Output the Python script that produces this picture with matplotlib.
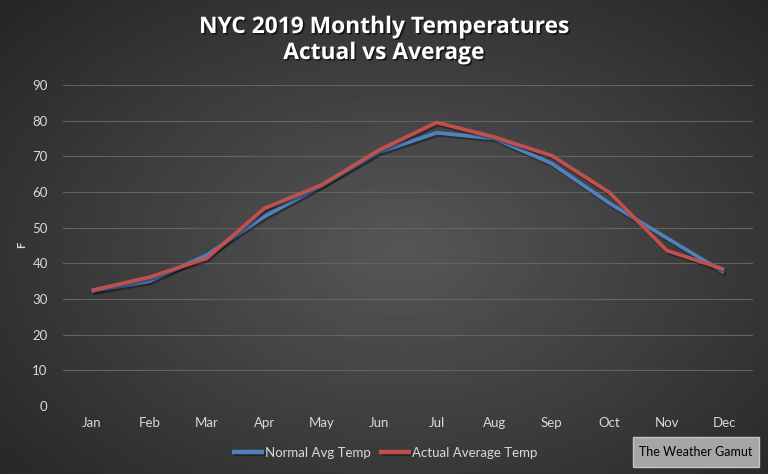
import numpy as np
import matplotlib
matplotlib.use('Agg')
import matplotlib.pyplot as plt
import matplotlib.patheffects as pe
from matplotlib.patches import Rectangle

# data
months = ['Jan', 'Feb', 'Mar', 'Apr', 'May', 'Jun', 'Jul', 'Aug', 'Sep', 'Oct', 'Nov', 'Dec']
normal_temp = [32.2, 35.0, 42.3, 53.1, 61.8, 71.2, 76.6, 75.0, 68.0, 56.9, 47.1, 37.4]
actual_temp = [32.4, 36.1, 41.4, 55.4, 62.0, 71.8, 79.5, 75.4, 70.2, 59.9, 43.6, 38.3]
yticks = list(range(0, 100, 10))

plt.rcParams['font.family'] = ['Lato', 'DejaVu Sans']

W, H = 768, 474
fig = plt.figure(figsize=(W / 100, H / 100), dpi=100)

# radial gradient background
bg = fig.add_axes([0, 0, 1, 1], zorder=0)
yy, xx = np.mgrid[0:H, 0:W]
r = np.sqrt(((xx - 400) / 420.0) ** 2 + ((yy - 250) / 280.0) ** 2)
shade = np.clip(0.34 - 0.15 * r, 0.12, 1)
bg.imshow(shade, cmap='gray', vmin=0, vmax=1, aspect='auto',
          extent=[0, 1, 0, 1], interpolation='bilinear')
bg.axis('off')

# plot area
ax = fig.add_axes([63 / W, 1 - 406 / H, (753 - 63) / W, (406 - 85) / H], zorder=1)
ax.set_facecolor('none')
x = np.arange(len(months))
shadow = [pe.SimpleLineShadow(offset=(1, -1.5), shadow_color='black', alpha=0.35), pe.Normal()]
ax.plot(x, normal_temp, color='#4F81BD', lw=2.7, label='Normal Avg Temp',
        solid_capstyle='butt', path_effects=shadow)
ax.plot(x, actual_temp, color='#C0504D', lw=2.7, label='Actual Average Temp',
        solid_capstyle='butt', path_effects=shadow)

ax.set_xlim(-0.5, len(months) - 0.5)
ax.set_ylim(0, 90)
ax.set_yticks(yticks)
ax.set_xticks(x)
ax.set_xticklabels(months)
ax.grid(axis='y', color='#636363', lw=0.8)
ax.set_axisbelow(True)
for s in ax.spines.values():
    s.set_visible(False)
ax.tick_params(length=0, colors='#D9D9D9', labelsize=9.5)
ax.tick_params(axis='y', pad=11)
ax.tick_params(axis='x', pad=8)

fig.text(22 / W, 1 - 245 / H, 'F', rotation=90, ha='center', va='center',
         color='#D9D9D9', fontsize=8, fontweight='bold')

# title
tshadow = [pe.withSimplePatchShadow(offset=(1.2, -1.2), shadow_rgbFace='black', alpha=0.6)]
tfont = ['Open Sans', 'DejaVu Sans']
fig.text(0.5, 1 - 27 / H, 'NYC 2019 Monthly Temperatures', ha='center', va='center',
         color='white', fontsize=16.4, fontweight='bold', family=tfont, path_effects=tshadow)
fig.text(0.5, 1 - 53 / H, 'Actual vs Average', ha='center', va='center',
         color='white', fontsize=16.4, fontweight='bold', family=tfont, path_effects=tshadow)

# legend
leg = fig.legend(loc='center', bbox_to_anchor=(385 / W, 1 - 453 / H), ncol=2,
                 frameon=False, handlelength=2.4, handletextpad=0.1,
                 columnspacing=0.6, fontsize=9.5, labelcolor='#D9D9D9')
for line in leg.get_lines():
    line.set_linewidth(3.2)

# watermark box
fig.patches.append(Rectangle((633 / W, 1 - 467 / H), 126 / W, 30 / H,
                             transform=fig.transFigure, fc='#A6A6A6', ec='#C4C4C4',
                             lw=1, zorder=2))
fig.text(696 / W, 1 - 452 / H, 'The Weather Gamut', ha='center', va='center',
         color='black', fontsize=9, zorder=3)

fig.savefig('out.png', dpi=100)
